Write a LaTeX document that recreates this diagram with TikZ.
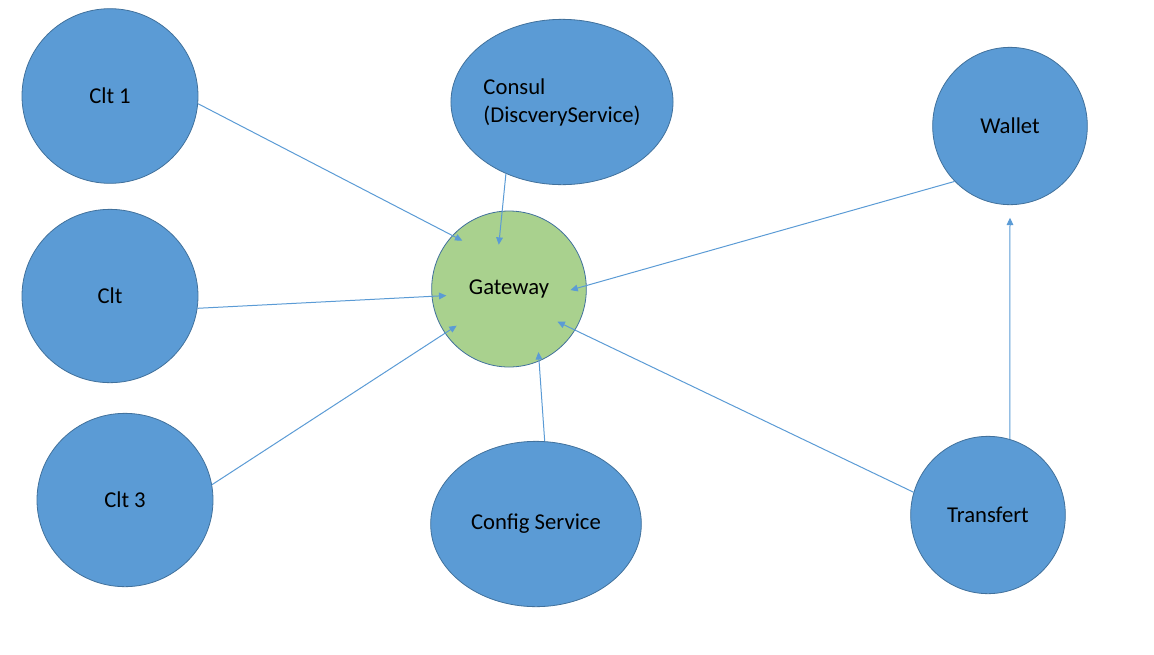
\documentclass[tikz,border=0pt]{standalone}
\usepackage{fontspec}
\setmainfont{Carlito}
\usetikzlibrary{shapes.geometric}
\usetikzlibrary{arrows.meta}
\usetikzlibrary{calc}

\definecolor{svcblue}{HTML}{5B9BD5}
\definecolor{svcline}{HTML}{41719C}
\definecolor{gwgreen}{HTML}{A9D18E}

\begin{document}
\begin{tikzpicture}[%
		x=0.75pt, y=-0.75pt,
		>={Triangle[length=5.5pt,width=5pt]},
		svc/.style={ellipse, draw=svcline, fill=svcblue, line width=0.6pt, inner sep=0pt, font=\fontsize{17}{21}\selectfont},
		link/.style={draw=svcblue, line width=0.75pt, ->}
		]
		\useasboundingbox (0,0) rectangle (1154,654);
		%%%%%%%%%%%%%%%
		%    NODES    %
		%%%%%%%%%%%%%%%
		% clients
		\node[svc, minimum width=132pt, minimum height=131pt] (clta) at (110,96) {Clt 1};
		\node[svc, minimum width=132pt, minimum height=130pt] (cltb) at (110,296) {Clt};
		\node[svc, minimum width=132pt, minimum height=130pt] (cltc) at (125,500) {Clt 3};
		
		% discovery + config
		\node[svc, minimum width=158pt, minimum height=124pt, align=left] (consul) at (562,102) {Consul\\(DiscveryService)};
		\node[svc, minimum width=158pt, minimum height=124pt] (config) at (536,524) {Config Service};
		
		% gateway
		\node[svc, fill=gwgreen, minimum width=116pt, minimum height=117pt] (gw) at (509,289) {Gateway};
		
		% services
		\node[svc, minimum width=116pt, minimum height=118pt] (wallet) at (1010,126) {Wallet};
		\node[svc, minimum width=116pt, minimum height=118pt] (transf) at (988,515) {Transfert};
		
		%%%%%%%%%%%%%%%
		% CONNECTIONS %
		%%%%%%%%%%%%%%%
		\path[link] (clta.-5) -- ($(gw)!.86!(gw.134)$);
		\path[link] (consul.232) -- ($(gw)!.58!(gw.103)$);
		\path[link] (cltb.-8) -- ($(gw)!.81!(gw.186)$);
		\path[link] (cltc.10) -- ($(gw)!.82!(gw.215)$);
		\path[link] (wallet.225) -- ($(gw)!.79!(gw.-1)$);
		\path[link] (config.84.5) -- ($(gw)!.89!(gw.-65)$);
		\path[link] (transf.163) -- ($(gw)!.75!(gw.-34)$);
		
		% transfert talks to wallet
		\path[link] (transf.74) -- ($(wallet)!1.16!(wallet.south)$);
		
	\end{tikzpicture}
\end{document}
